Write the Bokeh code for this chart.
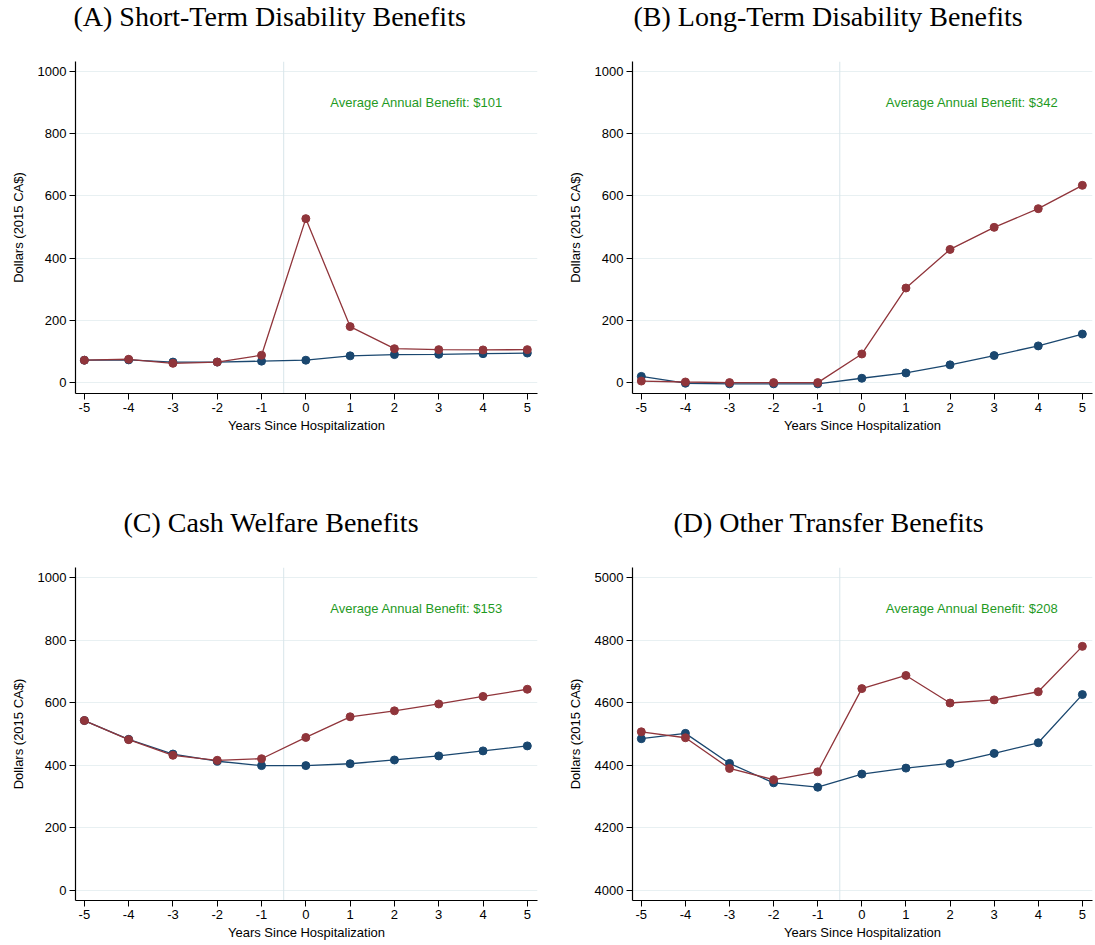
from bokeh.plotting import figure
from bokeh.layouts import column, row
from bokeh.models import Range1d, Span, FixedTicker, Title
from bokeh.core.properties import value
from bokeh.embed import file_html
from bokeh.resources import INLINE

# Event time relative to hospitalization
years = [-5, -4, -3, -2, -1, 0, 1, 2, 3, 4, 5]
year_labels = ["-5", "-4", "-3", "-2", "-1", "0", "1", "2", "3", "4", "5"]

# (A) Short-term disability benefits
st_hosp = [72, 75, 62, 66, 88, 527, 180, 109, 106, 105, 106]
st_ctrl = [72, 73, 66, 66, 69, 72, 86, 90, 91, 93, 95]

# (B) Long-term disability benefits
lt_hosp = [5, 2, 0, 0, 0, 92, 304, 428, 499, 559, 634]
lt_ctrl = [20, -2, -4, -4, -4, 14, 31, 57, 87, 118, 156]

# (C) Cash welfare benefits
cw_hosp = [543, 482, 432, 416, 421, 489, 555, 574, 596, 620, 643]
cw_ctrl = [543, 483, 436, 413, 399, 399, 405, 417, 430, 446, 462]

# (D) Other transfer benefits
ot_hosp = [4507, 4488, 4390, 4354, 4379, 4645, 4687, 4599, 4609, 4635, 4780]
ot_ctrl = [4485, 4502, 4406, 4344, 4330, 4372, 4391, 4406, 4438, 4472, 4626]

titles = ["(A) Short-Term Disability Benefits", "(B) Long-Term Disability Benefits",
          "(C) Cash Welfare Benefits", "(D) Other Transfer Benefits"]
benefit_notes = ["Average Annual Benefit: $101", "Average Annual Benefit: $342",
                 "Average Annual Benefit: $153", "Average Annual Benefit: $208"]
y_ticks_low = [0, 200, 400, 600, 800, 1000]
y_ticks_high = [4000, 4200, 4400, 4600, 4800, 5000]

NAVY = "#1a476f"
MAROON = "#90353b"
GREEN = "#1f9a1f"
SANS = "Liberation Sans"


def panel(title, title_shift, hosp, ctrl, note, yticks, ylo, yhi, note_y, left_panel, top_row):
    width = 547 if left_panel else 548
    height = 506 if top_row else 439
    p = figure(width=width, height=height, output_backend="svg", toolbar_location=None,
               x_range=Range1d(-5.2, 5.23), y_range=Range1d(ylo, yhi))
    p.min_border_left = 75 if left_panel else 85
    p.min_border_right = 10 if left_panel else 3
    p.min_border_top = 0
    p.min_border_bottom = 113 if top_row else 45
    p.outline_line_color = None

    # empty title used as a gap between the panel heading and the frame
    p.add_layout(Title(text=" ", text_font_size="1px", standoff=25), "above")

    p.title.text = title
    p.title.text_font = "Liberation Serif"
    p.title.text_font_size = "28px"
    p.title.text_font_style = "normal"
    p.title.text_color = "black"
    p.title.align = "left"
    p.title.offset = title_shift
    p.title.vertical_align = "top"
    p.title.standoff = 0

    p.xgrid.visible = False
    p.ygrid.grid_line_color = "#e8f0f2"
    p.ygrid.grid_line_width = 1

    p.xaxis.ticker = FixedTicker(ticks=years)
    p.xaxis.major_label_overrides = dict(zip(years, year_labels))
    p.yaxis.ticker = FixedTicker(ticks=yticks)
    p.xaxis.axis_label = "Years Since Hospitalization"
    p.yaxis.axis_label = "Dollars (2015 CA$)"
    for ax in (p.xaxis, p.yaxis):
        ax.axis_line_color = "black"
        ax.axis_line_width = 1.2
        ax.major_tick_line_color = "black"
        ax.major_tick_out = 6
        ax.major_tick_in = 0
        ax.minor_tick_out = 0
        ax.minor_tick_in = 0
        ax.major_label_text_font = SANS
        ax.major_label_text_font_size = "13px"
        ax.major_label_text_color = "black"
        ax.axis_label_text_font = SANS
        ax.axis_label_text_font_size = "13px"
        ax.axis_label_text_font_style = "normal"
        ax.axis_label_text_color = "black"
    p.xaxis.major_label_standoff = 3
    p.xaxis.axis_label_standoff = 3
    p.yaxis.major_label_standoff = 3
    p.yaxis.axis_label_standoff = 9

    p.add_layout(Span(location=-0.5, dimension="height", line_color="#d8e5ea",
                      line_width=1, level="underlay"))

    p.line(years, ctrl, line_color=NAVY, line_width=1.3)
    p.scatter(years, ctrl, size=8, fill_color=NAVY, line_color=NAVY)
    p.line(years, hosp, line_color=MAROON, line_width=1.3)
    p.scatter(years, hosp, size=8, fill_color=MAROON, line_color=MAROON)

    p.text(x=[2.5], y=[note_y], text=[note], text_align="center", text_baseline="middle",
           text_color=GREEN, text_font=value(SANS), text_font_size="13px")
    return p


pa = panel(titles[0], -2, st_hosp, st_ctrl, benefit_notes[0], y_ticks_low, -35, 1032, 900, True, True)
pb = panel(titles[1], 1, lt_hosp, lt_ctrl, benefit_notes[1], y_ticks_low, -35, 1032, 900, False, True)
pc = panel(titles[2], 48, cw_hosp, cw_ctrl, benefit_notes[2], y_ticks_low, -32, 1032, 900, True, False)
pd_ = panel(titles[3], 41, ot_hosp, ot_ctrl, benefit_notes[3], y_ticks_high, 3968, 5032, 4900, False, False)

layout = column(row(pa, pb), row(pc, pd_))
open("out.html", "w").write(file_html(layout, INLINE))
